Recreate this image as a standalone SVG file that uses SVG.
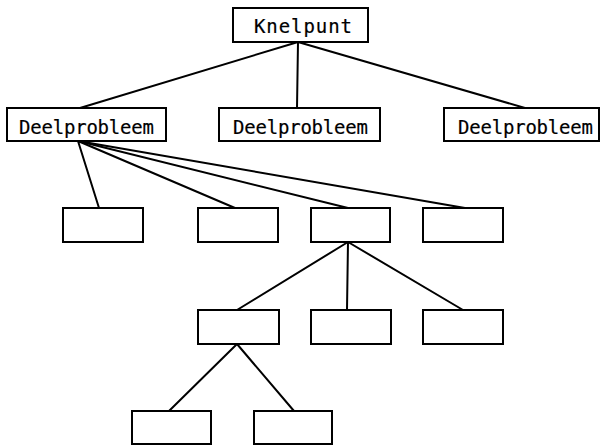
<svg xmlns="http://www.w3.org/2000/svg" width="601" height="445" viewBox="0 0 601 445">
<style>
.box{fill:#fff;stroke:#000;stroke-width:2}
.lbl{font-family:"DejaVu Sans Mono","Liberation Mono",monospace;font-size:19px;fill:#000;stroke:#000;stroke-width:0.2}
#connectors line{stroke:#000;stroke-width:2;stroke-linecap:round}
</style>
<rect width="601" height="445" fill="#fff"/>
<g id="connectors">
<line x1="298" y1="42" x2="80" y2="108"/>
<line x1="298" y1="42" x2="297" y2="108"/>
<line x1="298" y1="42" x2="525" y2="108"/>
<line x1="78" y1="141" x2="99" y2="208"/>
<line x1="78" y1="141" x2="235" y2="208"/>
<line x1="78" y1="141" x2="348" y2="208"/>
<line x1="78" y1="141" x2="465" y2="208"/>
<line x1="348" y1="242" x2="237" y2="310"/>
<line x1="348" y1="242" x2="347" y2="310"/>
<line x1="348" y1="242" x2="463" y2="310"/>
<line x1="237" y1="344" x2="169" y2="411"/>
<line x1="237" y1="344" x2="294" y2="411"/>
</g>
<g id="knelpunt"><rect class="box" x="233" y="8" width="135" height="34"/><text class="lbl" x="254" y="33" textLength="98" lengthAdjust="spacing">Knelpunt</text></g>
<g id="deel1"><rect class="box" x="7" y="108" width="159" height="33"/><text class="lbl" x="19" y="134" textLength="135" lengthAdjust="spacing">Deelprobleem</text></g>
<g id="deel2"><rect class="box" x="219" y="108" width="161" height="33"/><text class="lbl" x="233" y="134" textLength="135" lengthAdjust="spacing">Deelprobleem</text></g>
<g id="deel3"><rect class="box" x="444" y="108" width="155" height="33"/><text class="lbl" x="458" y="134" textLength="135" lengthAdjust="spacing">Deelprobleem</text></g>
<g id="a"><rect class="box" x="63" y="208" width="80" height="34"/></g>
<g id="b"><rect class="box" x="198" y="208" width="80" height="34"/></g>
<g id="c"><rect class="box" x="311" y="208" width="79" height="34"/></g>
<g id="d"><rect class="box" x="423" y="208" width="80" height="34"/></g>
<g id="e"><rect class="box" x="198" y="310" width="81" height="34"/></g>
<g id="f"><rect class="box" x="311" y="310" width="80" height="34"/></g>
<g id="g"><rect class="box" x="423" y="310" width="80" height="34"/></g>
<g id="h"><rect class="box" x="132" y="411" width="79" height="33"/></g>
<g id="i"><rect class="box" x="254" y="411" width="78" height="33"/></g>
</svg>
